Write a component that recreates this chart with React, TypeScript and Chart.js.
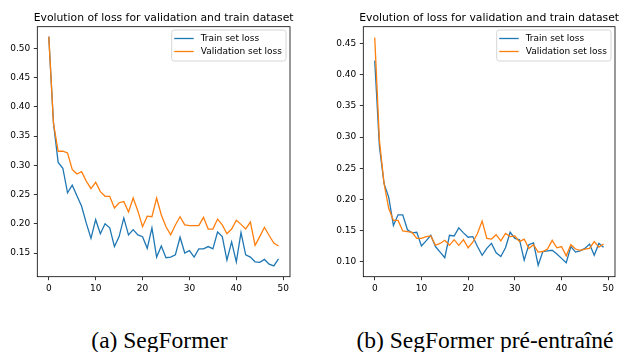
import React, { useEffect, useRef } from "react";
import { Chart, registerables } from "chart.js";

Chart.register(...registerables);

const TITLE = "Evolution of loss for validation and train dataset";
const legendLabels = ["Train set loss", "Validation set loss"];
const captions = ["(a) SegFormer", "(b) SegFormer pré-entraîné"];

const epochs = Array.from({ length: 50 }, (_, i) => i);
const xTicks = [0, 10, 20, 30, 40, 50];
const leftYTicks = [0.15, 0.2, 0.25, 0.3, 0.35, 0.4, 0.45, 0.5];
const rightYTicks = [0.1, 0.15, 0.2, 0.25, 0.3, 0.35, 0.4, 0.45];

const leftTrain = [
  0.52, 0.372, 0.305, 0.295, 0.253, 0.266, 0.248, 0.23, 0.201, 0.175,
  0.207, 0.183, 0.2, 0.193, 0.161, 0.178, 0.21, 0.181, 0.19, 0.181,
  0.178, 0.158, 0.193, 0.143, 0.162, 0.142, 0.143, 0.147, 0.177, 0.15,
  0.154, 0.143, 0.157, 0.157, 0.161, 0.157, 0.186, 0.178, 0.138, 0.169,
  0.135, 0.185, 0.147, 0.143, 0.135, 0.134, 0.139, 0.131, 0.128, 0.14,
];
const leftVal = [
  0.52, 0.372, 0.324, 0.324, 0.321, 0.293, 0.285, 0.289, 0.273, 0.26,
  0.271, 0.255, 0.247, 0.247, 0.227, 0.236, 0.238, 0.22, 0.244, 0.222,
  0.195, 0.213, 0.212, 0.244, 0.215, 0.195, 0.181, 0.198, 0.212, 0.198,
  0.197, 0.197, 0.197, 0.211, 0.191, 0.191, 0.208, 0.198, 0.183, 0.191,
  0.206, 0.199, 0.191, 0.203, 0.163, 0.178, 0.194, 0.18, 0.167, 0.162,
];
const rightTrain = [
  0.423, 0.285, 0.225, 0.203, 0.158, 0.175, 0.175, 0.151, 0.146, 0.147,
  0.125, 0.133, 0.142, 0.124, 0.115, 0.106, 0.142, 0.141, 0.154, 0.146,
  0.139, 0.14, 0.124, 0.11, 0.121, 0.129, 0.114, 0.108, 0.122, 0.147,
  0.137, 0.135, 0.102, 0.127, 0.13, 0.094, 0.116, 0.117, 0.118, 0.112,
  0.105, 0.098, 0.124, 0.115, 0.117, 0.121, 0.128, 0.11, 0.129, 0.123,
];
const rightVal = [
  0.46, 0.295, 0.225, 0.185, 0.166, 0.166, 0.149, 0.148, 0.147, 0.137,
  0.137, 0.14, 0.141, 0.126, 0.129, 0.134, 0.126, 0.135, 0.126, 0.135,
  0.122, 0.131, 0.145, 0.165, 0.137, 0.136, 0.143, 0.133, 0.145, 0.14,
  0.141, 0.132, 0.136, 0.121, 0.127, 0.115, 0.116, 0.12, 0.134, 0.122,
  0.124, 0.109, 0.127, 0.12, 0.118, 0.12, 0.121, 0.132, 0.123, 0.128,
];

const BLUE = "#1f77b4";
const ORANGE = "#ff7f0e";
const FONT = "DejaVu Sans";

type Props = {
  train: number[];
  val: number[];
  yMin: number;
  yMax: number;
  yTicks: number[];
  yAxisWidth: number;
  padRight: number;
  left: number;
};

function LossChart({ train, val, yMin, yMax, yTicks, yAxisWidth, padRight, left }: Props) {
  const ref = useRef<HTMLCanvasElement>(null);
  useEffect(() => {
    const canvas = ref.current!;
    const decor = {
      id: "decor",
      afterDraw(chart: any) {
        const { ctx, chartArea: a } = chart;
        ctx.save();
        ctx.strokeStyle = "#000";
        ctx.lineWidth = 0.8;
        ctx.strokeRect(a.left, a.top, a.right - a.left, a.bottom - a.top);
        ctx.fillStyle = "#000";
        ctx.font = `10.8px "${FONT}"`;
        ctx.textAlign = "center";
        ctx.textBaseline = "alphabetic";
        ctx.fillText(TITLE, (a.left + a.right) / 2, 20.5);
        // legend
        ctx.font = `9px "${FONT}"`;
        const tw = Math.max(...legendLabels.map((t) => ctx.measureText(t).width));
        const bw = 29 + tw + 4;
        const bh = 31;
        const bx = a.right - 4 - bw;
        const by = a.top + 3.3;
        ctx.beginPath();
        ctx.roundRect(bx, by, bw, bh, 2.5);
        ctx.fillStyle = "rgba(255,255,255,0.8)";
        ctx.fill();
        ctx.strokeStyle = "#d6d6d6";
        ctx.lineWidth = 1;
        ctx.stroke();
        const colors = [BLUE, ORANGE];
        legendLabels.forEach((t, i) => {
          const cy = by + 8.5 + i * 13;
          ctx.strokeStyle = colors[i];
          ctx.lineWidth = 1.3;
          ctx.beginPath();
          ctx.moveTo(bx + 2.5, cy);
          ctx.lineTo(bx + 22, cy);
          ctx.stroke();
          ctx.fillStyle = "#000";
          ctx.textAlign = "left";
          ctx.textBaseline = "middle";
          ctx.fillText(t, bx + 29, cy);
        });
        ctx.restore();
      },
    };
    const gridOpts = {
      display: true,
      drawOnChartArea: false,
      drawTicks: true,
      tickLength: 3.5,
      tickColor: "#000",
      tickWidth: 0.8,
    };
    const tickFont = { family: FONT, size: 9 };
    const chart = new Chart(canvas, {
      type: "line",
      data: {
        datasets: [
          {
            label: legendLabels[0],
            data: epochs.map((e, i) => ({ x: e, y: train[i] })),
            borderColor: BLUE,
            borderWidth: 1.3,
            pointRadius: 0,
            fill: false,
            tension: 0,
            order: 2,
          },
          {
            label: legendLabels[1],
            data: epochs.map((e, i) => ({ x: e, y: val[i] })),
            borderColor: ORANGE,
            borderWidth: 1.3,
            pointRadius: 0,
            fill: false,
            tension: 0,
            order: 1,
          },
        ],
      },
      options: {
        animation: false,
        responsive: false,
        maintainAspectRatio: false,
        layout: { padding: { left: 0, right: padRight, top: 26.7, bottom: 0 } },
        plugins: {
          legend: { display: false },
          title: { display: false },
          tooltip: { enabled: false },
        },
        scales: {
          x: {
            type: "linear",
            min: -2.45,
            max: 51.45,
            afterBuildTicks: (s: any) => {
              s.ticks = xTicks.map((v) => ({ value: v }));
            },
            afterFit: (s: any) => {
              s.height = 23.3;
            },
            grid: gridOpts,
            border: { display: false },
            ticks: {
              color: "#000",
              font: tickFont,
              padding: 3,
              maxRotation: 0,
              autoSkip: false,
              callback: (v: any) => String(v),
            },
          },
          y: {
            type: "linear",
            min: yMin,
            max: yMax,
            afterBuildTicks: (s: any) => {
              s.ticks = yTicks.map((v) => ({ value: v }));
            },
            afterFit: (s: any) => {
              s.width = yAxisWidth;
            },
            grid: gridOpts,
            border: { display: false },
            ticks: {
              color: "#000",
              font: tickFont,
              padding: 3.5,
              autoSkip: false,
              callback: (v: any) => Number(v).toFixed(2),
            },
          },
        },
      },
      plugins: [decor],
    } as any);
    return () => chart.destroy();
  }, []);
  return (
    <canvas
      ref={ref}
      width={310}
      height={300}
      style={{ position: "absolute", left, top: 0, width: 310, height: 300 }}
    />
  );
}

const captionStyle: React.CSSProperties = {
  position: "absolute",
  top: 329.3,
  fontFamily: '"Liberation Serif", serif',
  fontSize: 23.5,
  lineHeight: "23.5px",
  whiteSpace: "nowrap",
  color: "#000",
  transform: "translateX(-50%)",
};

export default function App() {
  return (
    <div
      style={{
        position: "absolute",
        left: 0,
        top: 0,
        width: 620,
        height: 352,
        background: "#fff",
        overflow: "hidden",
      }}
    >
      <LossChart
        train={leftTrain}
        val={leftVal}
        yMin={0.1095}
        yMax={0.537}
        yTicks={leftYTicks}
        yAxisWidth={37.3}
        padRight={20}
        left={0}
      />
      <LossChart
        train={rightTrain}
        val={rightVal}
        yMin={0.0755}
        yMax={0.4775}
        yTicks={rightYTicks}
        yAxisWidth={53.3}
        padRight={5}
        left={310}
      />
      <div style={{ ...captionStyle, left: 159.5 }}>{captions[0]}</div>
      <div style={{ ...captionStyle, left: 485 }}>{captions[1]}</div>
    </div>
  );
}
